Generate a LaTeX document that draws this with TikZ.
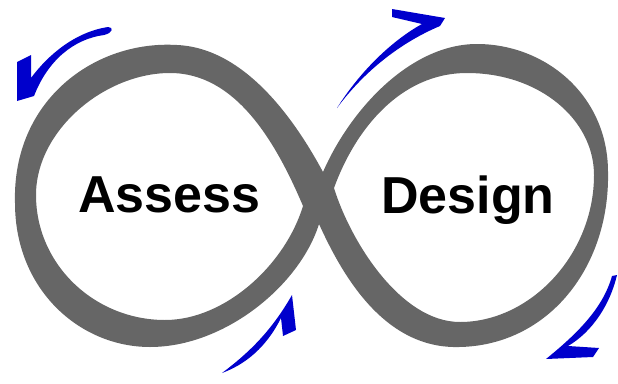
\documentclass[tikz,border=0pt]{standalone}
\usepackage{fontspec}
\setmainfont{Liberation Sans}
\definecolor{bandgray}{RGB}{102,102,102}
\definecolor{arrowblue}{RGB}{0,0,204}
\tikzset{
  band/.style={fill=bandgray, even odd rule},
  swoosh/.style={fill=arrowblue},
  label/.style={inner sep=0pt, anchor=base, font=\fontsize{52}{52}\selectfont\bfseries, text=black}
}
\begin{document}
\begin{tikzpicture}[x=1pt,y=-1pt]
\useasboundingbox (0,0) rectangle (618,383);
% notch points of the crossing
\coordinate (T) at (323,172);
\coordinate (R) at (334,188);
\coordinate (B) at (319,224);
\coordinate (L) at (303,206);
% infinity band: outer boundary + two holes
\fill[band]
  (T) .. controls (295,120) and (245,48) .. (177,45)
      .. controls (95,40) and (12,100) .. (15,203)
      .. controls (15,290) and (80,347) .. (150,347)
      .. controls (225,347) and (300,285) .. (B)
      .. controls (340,270) and (380,345) .. (453,347)
      .. controls (545,349) and (610,270) .. (608,172)
      .. controls (608,95) and (545,44) .. (477,44)
      .. controls (410,44) and (350,110) .. (T) -- cycle
  (L) .. controls (275,140) and (235,73) .. (170,73)
      .. controls (105,73) and (36,130) .. (36,195)
      .. controls (36,265) and (95,320) .. (165,320)
      .. controls (225,320) and (285,265) .. (L) -- cycle
  (R) .. controls (355,130) and (400,73) .. (467,73)
      .. controls (540,73) and (594,120) .. (594,175)
      .. controls (594,255) and (530,322) .. (460,322)
      .. controls (400,322) and (350,240) .. (R) -- cycle;
% blue arrows
\fill[swoosh] (17,62) -- (31,55) -- (31,78) .. controls (48,55) and (75,32) .. (108,27)
  .. controls (114,27) and (113,33) .. (104,35)
  .. controls (74,39) and (48,60) .. (34,96) -- (17,101) -- cycle;
\fill[swoosh] (392,9) -- (445,18) -- (440,26) .. controls (402,42) and (365,70) .. (337,108)
  .. controls (361,70) and (393,40) .. (422,24) -- (392,17) -- cycle;
\fill[swoosh] (222,373) .. controls (250,352) and (272,330) .. (292,295) -- (296,330) -- (283,336) -- (281,318)
  .. controls (270,340) and (252,362) .. (222,373) -- cycle;
\fill[swoosh] (617,275) .. controls (610,305) and (592,332) .. (568,346) -- (599,348) -- (593,357) -- (546,359)
  .. controls (578,333) and (603,308) .. (612,276) -- cycle;
% labels
\node[label] (assess) at (169.5,212) {Assess};
\node[label] (design) at (468,213) {Design};
\end{tikzpicture}
\end{document}
